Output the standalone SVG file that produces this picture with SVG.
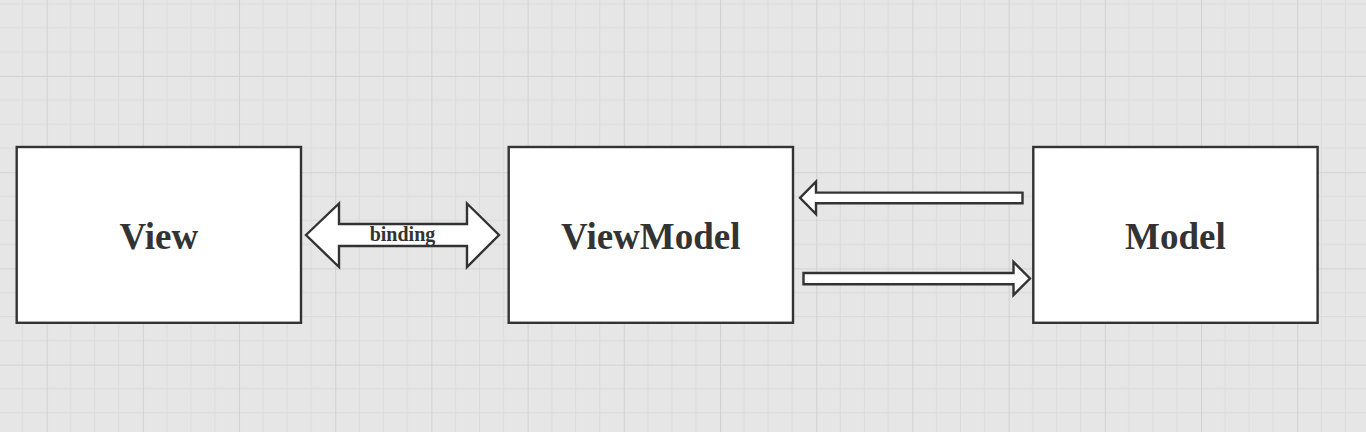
<svg xmlns="http://www.w3.org/2000/svg" width="1366" height="432" viewBox="0 0 1366 432">
  <defs>
    <pattern id="grid" patternUnits="userSpaceOnUse" x="46.6" y="76" width="96.2" height="96.2">
      <rect width="96.2" height="96.2" fill="#e6e6e6"/>
      <g stroke="#dbdbdb" stroke-width="1" fill="none">
        <path d="M24.05 0V96.2M48.1 0V96.2M72.15 0V96.2M0 24.05H96.2M0 48.1H96.2M0 72.15H96.2"/>
      </g>
      <g stroke="#d2d2d2" stroke-width="1" fill="none">
        <path d="M0.5 0V96.2M0 0.5H96.2"/>
      </g>
    </pattern>
    <style>
      .box { fill: #ffffff; stroke: #333333; stroke-width: 2.4; }
      .arrow { fill: #ffffff; stroke: #333333; stroke-width: 2.4; stroke-linejoin: miter; }
      .label { font-family: "Liberation Serif", "Times New Roman", serif; font-weight: bold; font-size: 37px; fill: #333333; text-anchor: middle; }
      .elabel { font-family: "Liberation Serif", "Times New Roman", serif; font-weight: bold; font-size: 20px; fill: #333333; text-anchor: middle; }
    </style>
  </defs>
  <rect x="0" y="0" width="1366" height="432" fill="url(#grid)"/>

  <g id="connectors">
    <g id="binding">
      <polygon class="arrow" points="306,235 339,203.5 339,224 467,224 467,203.5 499,235 467,267 467,246 339,246 339,267"/>
      <text class="elabel" x="402.5" y="241">binding</text>
    </g>
    <polygon id="model-to-viewmodel" class="arrow" points="800,197.8 816,181.7 816,192.6 1022.5,192.6 1022.5,203.2 816,203.2 816,214"/>
    <polygon id="viewmodel-to-model" class="arrow" points="803.5,273 1013.5,273 1013.5,262 1030,278.5 1013.5,295 1013.5,284.2 803.5,284.2"/>
  </g>

  <g id="view">
    <rect class="box" x="16.7" y="147" width="284.3" height="175.8"/>
    <text class="label" x="158.8" y="248.5">View</text>
  </g>
  <g id="viewmodel">
    <rect class="box" x="508.7" y="147" width="284.3" height="175.8"/>
    <text class="label" x="650.8" y="248.5">ViewModel</text>
  </g>
  <g id="model">
    <rect class="box" x="1033.3" y="147" width="284.3" height="175.8"/>
    <text class="label" x="1175.4" y="248.5">Model</text>
  </g>
</svg>
